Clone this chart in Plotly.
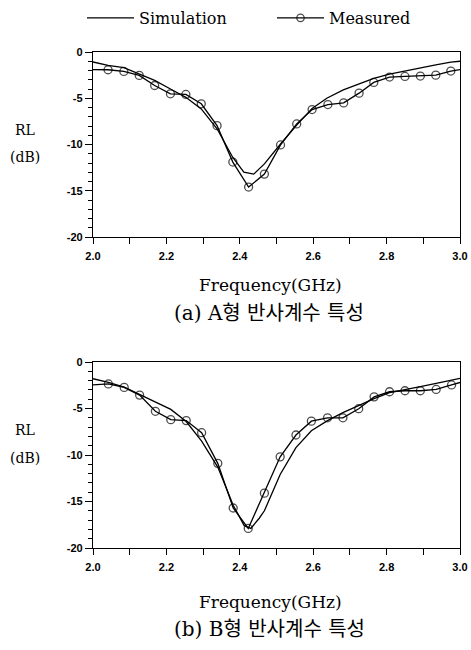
import plotly.graph_objects as go

# ---------- data ----------
freq_meas_a = [2.0, 2.041, 2.084, 2.126, 2.168, 2.211, 2.253, 2.295, 2.338, 2.381, 2.424,
               2.467, 2.511, 2.555, 2.597, 2.640, 2.683, 2.725, 2.765, 2.808, 2.850,
               2.892, 2.934, 2.975, 3.0]
rl_meas_a = [-1.9, -1.92, -2.10, -2.53, -3.62, -4.52, -4.59, -5.6, -7.96, -11.9, -14.6,
             -13.2, -10.05, -7.78, -6.22, -5.68, -5.5, -4.45, -3.29, -2.71, -2.64,
             -2.6, -2.5, -2.06, -1.9]

freq_sim_a = [2.0, 2.041, 2.084, 2.126, 2.168, 2.211, 2.253, 2.295, 2.338, 2.381, 2.411,
              2.438, 2.467, 2.511, 2.555, 2.597, 2.637, 2.682, 2.727, 2.765,
              2.808, 2.850, 2.892, 2.934, 2.975, 3.0]
rl_sim_a = [-1.08, -1.45, -1.7, -2.35, -3.07, -4.0, -4.9, -6.15, -8.3, -11.4, -13.0,
            -13.2, -12.1, -9.95, -7.9, -6.1, -5.0, -4.1, -3.4, -2.85,
            -2.4, -2.05, -1.7, -1.4, -1.1, -1.0]

freq_meas_b = [2.0, 2.042, 2.085, 2.127, 2.170, 2.212, 2.254, 2.296, 2.340, 2.382, 2.423,
               2.467, 2.510, 2.553, 2.595, 2.639, 2.681, 2.724, 2.766, 2.808, 2.850,
               2.892, 2.935, 2.977, 3.0]
rl_meas_b = [-2.47, -2.36, -2.73, -3.56, -5.3, -6.2, -6.3, -7.6, -10.9, -15.7, -17.9,
             -14.1, -10.2, -7.85, -6.36, -6.0, -6.0, -5.02, -3.75, -3.2, -3.09,
             -3.09, -2.95, -2.47, -2.2]

freq_sim_b = [2.0, 2.042, 2.085, 2.127, 2.170, 2.212, 2.254, 2.296, 2.340, 2.382, 2.412,
              2.430, 2.453, 2.467, 2.510, 2.553, 2.595, 2.639, 2.681, 2.724, 2.766,
              2.808, 2.850, 2.892, 2.935, 2.977, 3.0]
rl_sim_b = [-1.8, -2.2, -2.7, -3.5, -4.3, -5.1, -6.4, -8.5, -11.3, -15.4, -17.6,
            -17.9, -16.8, -16.0, -12.1, -9.2, -7.4, -6.3, -5.45, -4.65, -3.93,
            -3.3, -3.0, -2.65, -2.3, -1.93, -1.75]

x_ticks = [2.0, 2.2, 2.4, 2.6, 2.8, 3.0]
x_tick_labels = ["2.0", "2.2", "2.4", "2.6", "2.8", "3.0"]
y_ticks = [0, -5, -10, -15, -20]
y_tick_labels = ["0", "-5", "-10", "-15", "-20"]
series_names = ["Simulation", "Measured"]
captions = ["(a) A형 반사계수 특성", "(b) B형 반사계수 특성"]
x_title = "Frequency(GHz)"
y_title_lines = ["RL", "(dB)"]

# ---------- figure ----------
W, H = 471, 650
fig = go.Figure()

serif = "DejaVu Serif, Noto Sans CJK KR, serif"
tickfont = dict(family="Liberation Sans, Arial, sans-serif", size=11, color="black", weight="bold")
line_w = 1.3


def marker_sizes(n):
    return [0] + [8] * (n - 2) + [0]


panels = [
    ("x", "y", freq_sim_a, rl_sim_a, freq_meas_a, rl_meas_a, True),
    ("x2", "y2", freq_sim_b, rl_sim_b, freq_meas_b, rl_meas_b, False),
]
for xa, ya, fs, rs, fm, rm, show in panels:
    fig.add_trace(go.Scatter(x=fs, y=rs, mode="lines", name=series_names[0],
                             line=dict(color="black", width=line_w),
                             xaxis=xa, yaxis=ya, showlegend=show))
    fig.add_trace(go.Scatter(x=fm, y=rm, mode="lines+markers", name=series_names[1],
                             line=dict(color="black", width=line_w),
                             marker=dict(symbol="circle-open", size=marker_sizes(len(fm)),
                                         color="black", line=dict(width=1.3)),
                             xaxis=xa, yaxis=ya, showlegend=show))

xdom = [93 / W, 460 / W]
ydom_a = [1 - 237 / H, 1 - 52 / H]
ydom_b = [1 - 548 / H, 1 - 362 / H]

common_x = dict(range=[2.0, 3.0], tickvals=x_ticks, ticktext=x_tick_labels,
                ticks="outside", ticklen=6, tickwidth=1.2, tickcolor="black",
                ticklabelstandoff=3,
                minor=dict(dtick=0.1, tick0=2.0, ticks="outside", ticklen=6, tickwidth=1.2,
                           tickcolor="black"),
                showline=True, linecolor="black", linewidth=1.3, mirror=True,
                showgrid=False, zeroline=False, tickfont=tickfont, domain=xdom)
common_y = dict(range=[-20, 0], tickvals=y_ticks, ticktext=y_tick_labels,
                ticks="outside", ticklen=7, tickwidth=1.2, tickcolor="black",
                minor=dict(dtick=1, tick0=0, ticks="outside", ticklen=4, tickwidth=1,
                           tickcolor="black"),
                showline=True, linecolor="black", linewidth=1.3, mirror=True,
                showgrid=False, zeroline=False, tickfont=tickfont)

fig.update_layout(
    width=W, height=H,
    margin=dict(l=0, r=0, t=0, b=0, autoexpand=False),
    paper_bgcolor="white", plot_bgcolor="white",
    xaxis=dict(**common_x, anchor="y"),
    yaxis=dict(**common_y, domain=ydom_a, anchor="x"),
    xaxis2=dict(**common_x, anchor="y2"),
    yaxis2=dict(**common_y, domain=ydom_b, anchor="x2"),
    legend=dict(orientation="h", x=82 / W, y=1 - 18 / H, xanchor="left", yanchor="middle",
                font=dict(family=serif, size=16, color="black"),
                bgcolor="rgba(0,0,0,0)", itemwidth=47, entrywidth=128,
                tracegroupgap=0),
)

ann = []
for (rl_y, db_y, fx_y, cap_y, cap) in [(130, 157, 285, 313, captions[0]),
                                       (430, 458, 602, 629, captions[1])]:
    base = dict(xref="paper", yref="paper", showarrow=False, xanchor="center", yanchor="middle")
    ann.append(dict(text=y_title_lines[0], x=25 / W, y=1 - rl_y / H,
                    font=dict(family=serif, size=14, color="black"), **base))
    ann.append(dict(text=y_title_lines[1], x=25 / W, y=1 - db_y / H,
                    font=dict(family=serif, size=14, color="black"), **base))
    ann.append(dict(text=x_title, x=270 / W, y=1 - fx_y / H,
                    font=dict(family=serif, size=17, color="black"), **base))
    ann.append(dict(text=cap, x=269 / W, y=1 - cap_y / H,
                    font=dict(family=serif, size=20, color="black"), **base))
fig.update_layout(annotations=ann)

fig.write_html("out.html", config={"displayModeBar": False},
               post_script="document.body.style.margin='0';")
